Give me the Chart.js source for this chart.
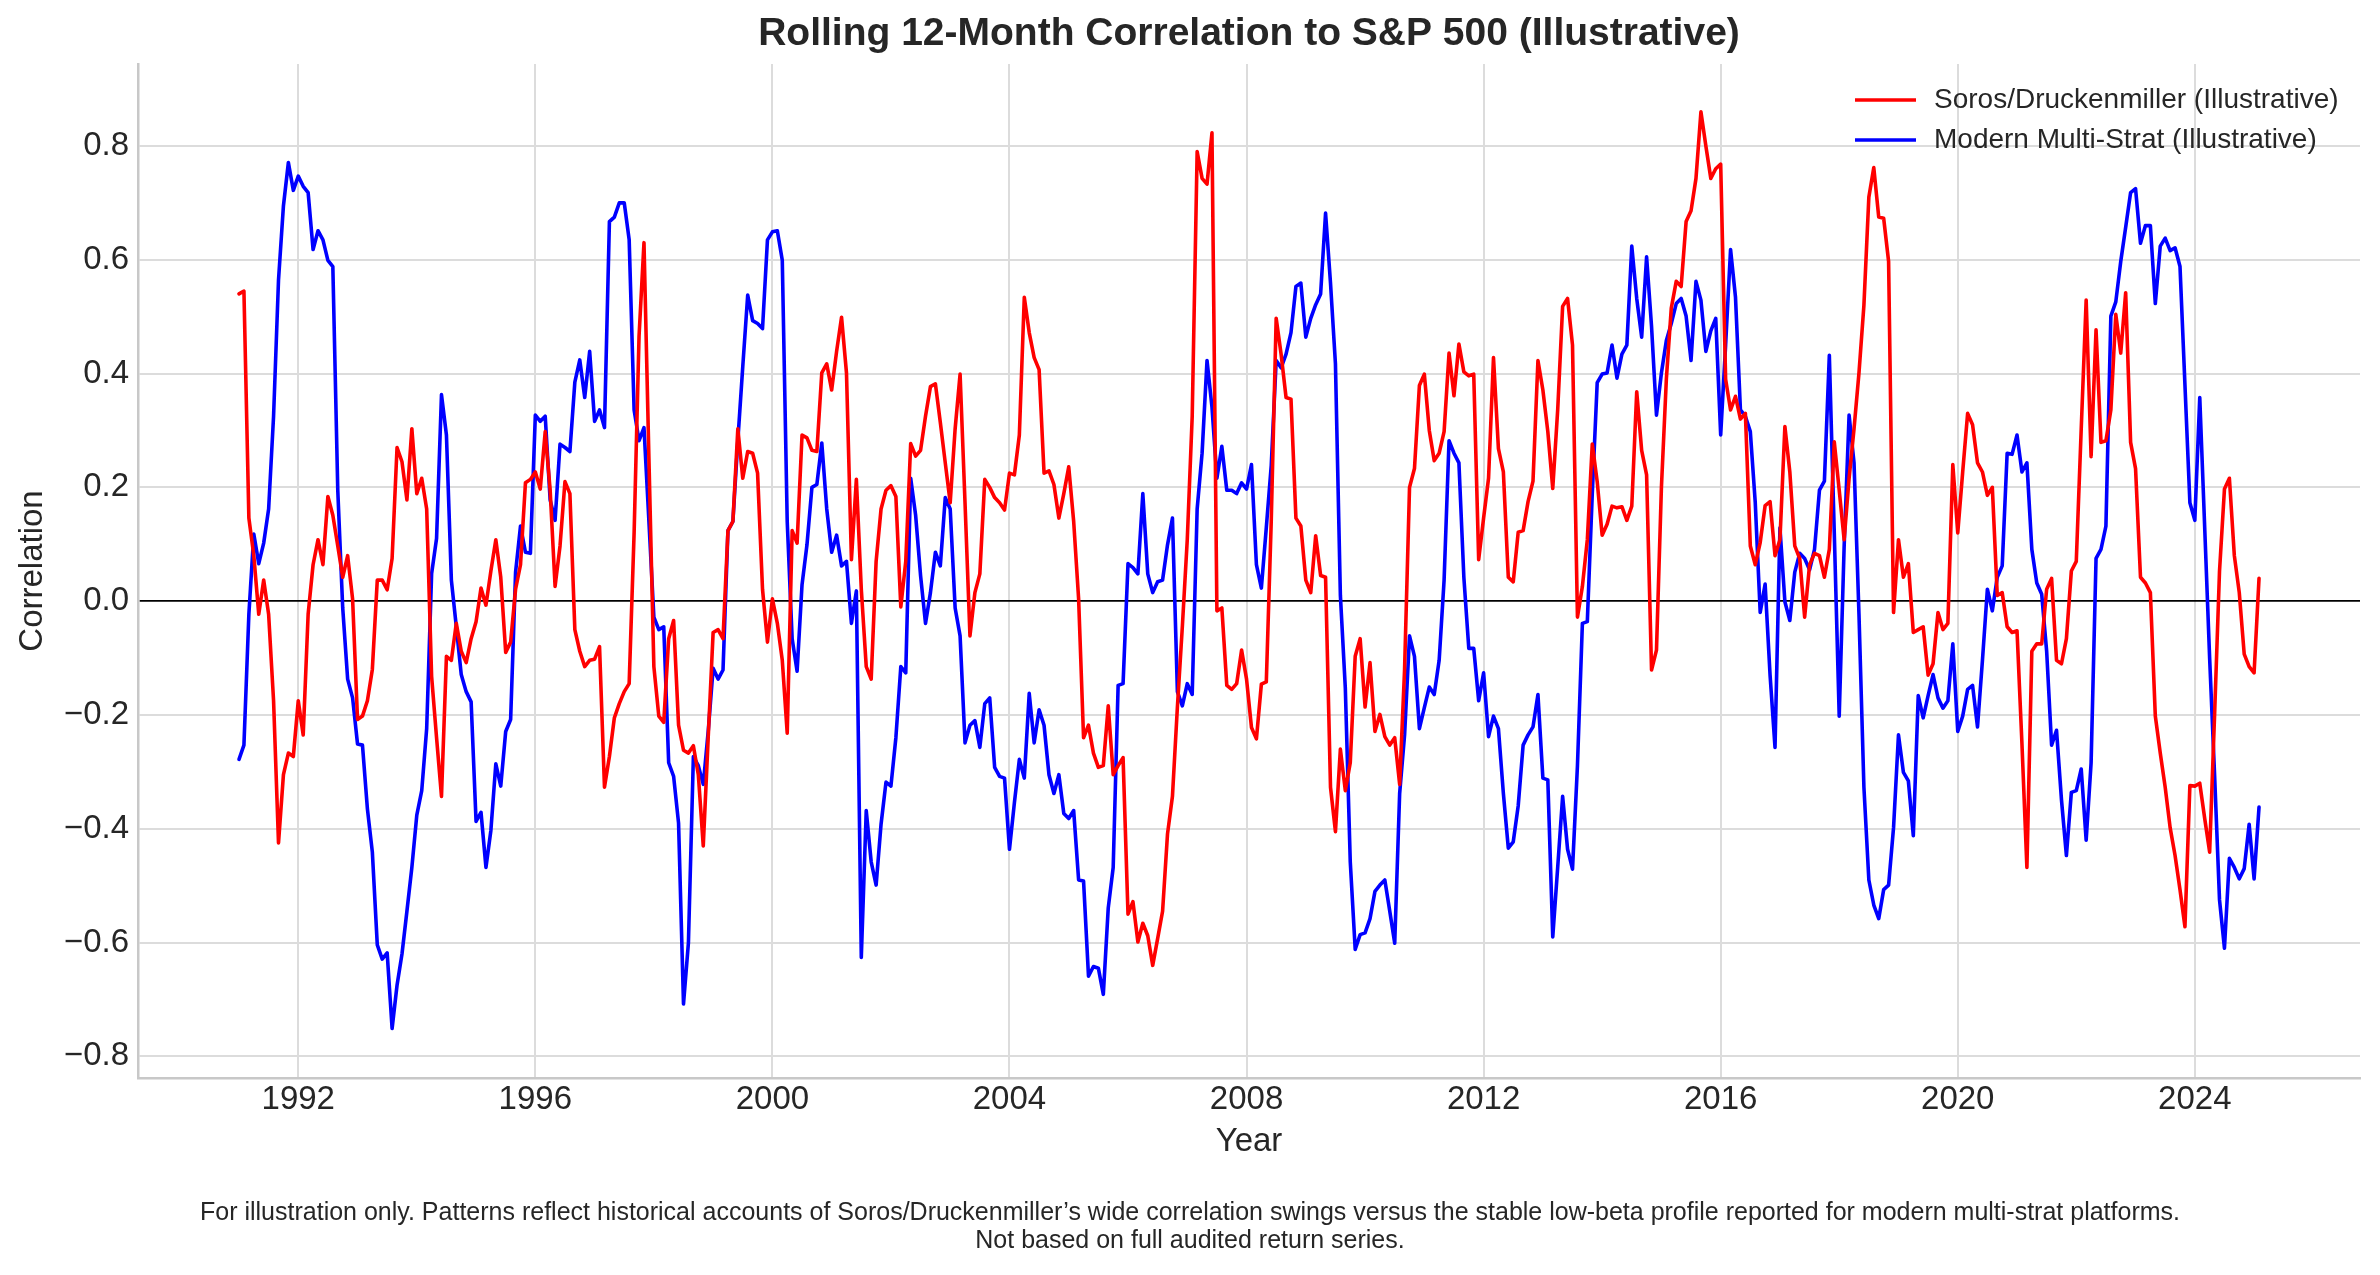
<!DOCTYPE html>
<html>
<head>
<meta charset="utf-8">
<script src="https://cdn.jsdelivr.net/npm/chart.js@4.4.1/dist/chart.umd.min.js"></script>
<style>
html,body{margin:0;padding:0;background:#ffffff;}
#wrap{width:2380px;height:1275px;position:relative;}
</style>
</head>
<body>
<div id="wrap"><canvas id="c"></canvas></div>
<script>
// ---- data (monthly, starting January 1991) ----
const startYear = 1991;
const seriesNames = ["Soros/Druckenmiller (Illustrative)", "Modern Multi-Strat (Illustrative)"];
const seriesColors = ["#ff0000", "#0000ff"];

const sorosValues = [
0.54,0.545,0.146,0.08,-0.023,0.037,-0.023,-0.175,-0.425,-0.305,-0.267,-0.273,
-0.175,-0.235,-0.023,0.064,0.108,0.064,0.184,0.151,0.097,0.042,0.08,0.004,
-0.208,-0.202,-0.175,-0.12,0.037,0.037,0.02,0.075,0.27,0.245,0.178,0.303,
0.189,0.216,0.162,-0.132,-0.24,-0.343,-0.097,-0.104,-0.039,-0.088,-0.108,-0.066,
-0.036,0.023,-0.007,0.053,0.108,0.042,-0.09,-0.072,0.021,0.064,0.208,0.214,
0.227,0.197,0.298,0.195,0.026,0.097,0.21,0.189,-0.05,-0.088,-0.115,-0.104,
-0.102,-0.08,-0.327,-0.273,-0.205,-0.18,-0.159,-0.145,0.12,0.466,0.63,0.25,
-0.115,-0.202,-0.213,-0.066,-0.034,-0.218,-0.262,-0.267,-0.254,-0.305,-0.43,-0.24,
-0.055,-0.05,-0.066,0.124,0.14,0.303,0.216,0.263,0.26,0.225,0.021,-0.072,
0.004,-0.039,-0.104,-0.232,0.124,0.102,0.292,0.287,0.265,0.263,0.401,0.417,
0.371,0.439,0.499,0.401,0.073,0.214,0.021,-0.115,-0.137,0.07,0.162,0.195,
0.203,0.184,-0.01,0.07,0.277,0.255,0.265,0.325,0.377,0.382,0.314,0.243,
0.173,0.303,0.399,0.173,-0.061,0.015,0.048,0.214,0.2,0.182,0.173,0.16,
0.225,0.222,0.292,0.534,0.472,0.428,0.407,0.225,0.229,0.205,0.146,0.189,
0.236,0.14,0.004,-0.24,-0.218,-0.267,-0.292,-0.289,-0.184,-0.305,-0.289,-0.275,
-0.55,-0.528,-0.599,-0.566,-0.588,-0.64,-0.593,-0.545,-0.409,-0.343,-0.186,-0.045,
0.108,0.325,0.79,0.743,0.733,0.823,-0.017,-0.012,-0.148,-0.155,-0.145,-0.086,
-0.137,-0.222,-0.242,-0.146,-0.142,0.14,0.497,0.434,0.358,0.355,0.146,0.132,
0.037,0.015,0.115,0.045,0.042,-0.327,-0.405,-0.26,-0.333,-0.284,-0.097,-0.066,
-0.186,-0.108,-0.229,-0.199,-0.238,-0.253,-0.24,-0.322,-0.12,0.2,0.233,0.379,
0.399,0.3,0.247,0.26,0.298,0.436,0.361,0.452,0.403,0.396,0.399,0.073,
0.146,0.216,0.428,0.268,0.227,0.042,0.034,0.121,0.124,0.175,0.211,0.423,
0.371,0.298,0.198,0.336,0.518,0.532,0.45,-0.028,0.026,0.108,0.276,0.21,
0.116,0.135,0.167,0.164,0.166,0.142,0.167,0.368,0.265,0.222,-0.121,-0.086,
0.2,0.39,0.515,0.562,0.553,0.667,0.686,0.743,0.86,0.8,0.743,0.76,
0.768,0.39,0.336,0.36,0.32,0.33,0.097,0.064,0.103,0.168,0.175,0.08,
0.108,0.307,0.227,0.097,0.075,-0.028,0.064,0.084,0.08,0.042,0.091,0.28,
0.195,0.108,0.216,0.303,0.401,0.52,0.71,0.762,0.675,0.673,0.597,-0.02,
0.108,0.042,0.066,-0.055,-0.05,-0.045,-0.13,-0.11,-0.02,-0.05,-0.039,0.24,
0.12,0.227,0.33,0.31,0.243,0.227,0.186,0.2,0.01,0.015,-0.045,-0.055,
-0.052,-0.251,-0.468,-0.088,-0.075,-0.075,0.021,0.04,-0.104,-0.11,-0.066,0.053,
0.07,0.303,0.529,0.254,0.477,0.279,0.282,0.336,0.504,0.436,0.542,0.279,
0.233,0.042,0.032,0.015,-0.202,-0.267,-0.327,-0.398,-0.447,-0.507,-0.572,-0.324,
-0.325,-0.32,-0.382,-0.441,-0.2,0.053,0.197,0.216,0.08,0.015,-0.093,-0.115,
-0.126,0.04
];

const multiStratValues = [
-0.278,-0.253,-0.023,0.118,0.066,0.102,0.162,0.325,0.564,0.695,0.771,0.722,
0.747,0.729,0.718,0.618,0.651,0.635,0.599,0.588,0.195,-0.012,-0.137,-0.17,
-0.251,-0.253,-0.365,-0.441,-0.604,-0.629,-0.618,-0.751,-0.675,-0.62,-0.545,-0.468,
-0.376,-0.333,-0.224,0.048,0.11,0.363,0.292,0.037,-0.045,-0.129,-0.159,-0.177,
-0.387,-0.371,-0.468,-0.403,-0.286,-0.325,-0.229,-0.208,0.051,0.132,0.086,0.084,
0.327,0.316,0.325,0.178,0.142,0.276,0.27,0.263,0.385,0.424,0.358,0.439,
0.316,0.336,0.305,0.667,0.675,0.7,0.7,0.635,0.336,0.282,0.305,0.14,
-0.028,-0.05,-0.045,-0.284,-0.308,-0.39,-0.708,-0.6,-0.273,-0.289,-0.322,-0.229,
-0.118,-0.137,-0.121,0.124,0.14,0.282,0.412,0.538,0.493,0.488,0.479,0.635,
0.649,0.651,0.599,0.14,-0.066,-0.123,0.029,0.099,0.2,0.205,0.278,0.162,
0.086,0.116,0.062,0.07,-0.039,0.018,-0.626,-0.368,-0.458,-0.499,-0.392,-0.318,
-0.325,-0.24,-0.115,-0.126,0.216,0.151,0.045,-0.039,0.015,0.086,0.062,0.182,
0.162,-0.012,-0.061,-0.249,-0.218,-0.21,-0.257,-0.18,-0.17,-0.292,-0.308,-0.311,
-0.436,-0.354,-0.278,-0.311,-0.162,-0.249,-0.191,-0.218,-0.305,-0.338,-0.305,-0.373,
-0.382,-0.368,-0.49,-0.492,-0.659,-0.642,-0.645,-0.691,-0.539,-0.468,-0.148,-0.145,
0.066,0.059,0.048,0.189,0.048,0.015,0.034,0.037,0.099,0.146,-0.159,-0.184,
-0.145,-0.164,0.162,0.26,0.423,0.341,0.216,0.272,0.195,0.195,0.189,0.208,
0.197,0.24,0.064,0.023,0.129,0.238,0.423,0.41,0.434,0.472,0.553,0.559,
0.464,0.497,0.521,0.54,0.682,0.559,0.417,0.01,-0.153,-0.458,-0.612,-0.586,
-0.583,-0.558,-0.51,-0.499,-0.49,-0.545,-0.601,-0.338,-0.235,-0.061,-0.097,-0.224,
-0.187,-0.151,-0.164,-0.104,0.037,0.282,0.26,0.243,0.042,-0.083,-0.083,-0.175,
-0.126,-0.238,-0.202,-0.224,-0.338,-0.434,-0.423,-0.36,-0.253,-0.235,-0.221,-0.164,
-0.311,-0.314,-0.59,-0.468,-0.343,-0.436,-0.471,-0.289,-0.039,-0.036,0.189,0.384,
0.399,0.401,0.45,0.392,0.434,0.45,0.624,0.532,0.464,0.605,0.483,0.327,
0.401,0.458,0.488,0.523,0.532,0.501,0.423,0.562,0.529,0.439,0.475,0.497,
0.292,0.45,0.618,0.534,0.336,0.325,0.298,0.173,-0.02,0.03,-0.13,-0.257,
0.129,-0.001,-0.034,0.051,0.084,0.075,0.055,0.091,0.195,0.211,0.432,0.12,
-0.202,0.097,0.327,0.243,-0.023,-0.327,-0.49,-0.534,-0.558,-0.507,-0.499,-0.398,
-0.235,-0.301,-0.316,-0.412,-0.166,-0.205,-0.166,-0.129,-0.17,-0.188,-0.175,-0.075,
-0.229,-0.202,-0.155,-0.148,-0.221,-0.104,0.021,-0.017,0.042,0.062,0.26,0.258,
0.292,0.227,0.243,0.091,0.032,0.012,-0.088,-0.253,-0.227,-0.349,-0.447,-0.336,
-0.333,-0.295,-0.42,-0.284,0.075,0.091,0.132,0.501,0.526,0.597,0.657,0.718,
0.725,0.629,0.66,0.66,0.523,0.624,0.638,0.616,0.621,0.588,0.38,0.173,
0.142,0.358,0.129,-0.1,-0.305,-0.525,-0.61,-0.452,-0.468,-0.488,-0.47,-0.392,
-0.488,-0.362
];

const xTickYears = [1992, 1996, 2000, 2004, 2008, 2012, 2016, 2020, 2024];
const yTickValues = [-0.8, -0.6, -0.4, -0.2, 0.0, 0.2, 0.4, 0.6, 0.8];

const titleText = "Rolling 12-Month Correlation to S&P 500 (Illustrative)";
const xTitle = "Year";
const yTitle = "Correlation";
const footnoteLines = [
  "For illustration only. Patterns reflect historical accounts of Soros/Druckenmiller\u2019s wide correlation swings versus the stable low-beta profile reported for modern multi-strat platforms.",
  "Not based on full audited return series."
];

// ---- build ----
const FONT = '"Liberation Sans", Arial, Helvetica, sans-serif';
const TEXT = '#262626';
const LINE_W = 3.6;
function toPoints(vals){ return vals.map((v,i)=>({x: startYear + i/12, y: v})); }
function fmtY(v){ const s = Math.abs(v) < 1e-9 ? '0.0' : v.toFixed(1); return s.replace('-', '\u2212'); }

const decor = {
  id: 'decor',
  afterDraw(chart){
    const ctx = chart.ctx, a = chart.chartArea;
    const cx = (a.left + a.right)/2;
    ctx.save();
    ctx.fillStyle = TEXT;
    ctx.textBaseline = 'middle';
    // title
    ctx.font = 'bold 39px ' + FONT;
    ctx.textAlign = 'center';
    ctx.fillText(titleText, cx, 34);
    // x title
    ctx.font = '33px ' + FONT;
    ctx.fillText(xTitle, cx, 1142);
    // y title
    ctx.save();
    ctx.translate(33, (a.top + a.bottom)/2);
    ctx.rotate(-Math.PI/2);
    ctx.fillText(yTitle, 0, 0);
    ctx.restore();
    // footnote
    ctx.font = '25px ' + FONT;
    ctx.fillText(footnoteLines[0], 1190, 1213);
    ctx.fillText(footnoteLines[1], 1190, 1241);
    // legend
    ctx.font = '28px ' + FONT;
    ctx.textAlign = 'left';
    const rows = [100, 140];
    chart.data.datasets.forEach((ds, i) => {
      ctx.strokeStyle = ds.borderColor;
      ctx.lineWidth = LINE_W;
      ctx.beginPath();
      ctx.moveTo(1855, rows[i]);
      ctx.lineTo(1916, rows[i]);
      ctx.stroke();
      ctx.fillStyle = TEXT;
      ctx.fillText(ds.label, 1934, rows[i]);
    });
    ctx.restore();
  }
};

new Chart(document.getElementById('c'), {
  type: 'line',
  data: {
    datasets: [
      { label: seriesNames[0], data: toPoints(sorosValues), borderColor: seriesColors[0], backgroundColor: seriesColors[0], borderWidth: LINE_W, pointRadius: 0, tension: 0, fill: false, borderJoinStyle: 'round', borderCapStyle: 'round' },
      { label: seriesNames[1], data: toPoints(multiStratValues), borderColor: seriesColors[1], backgroundColor: seriesColors[1], borderWidth: LINE_W, pointRadius: 0, tension: 0, fill: false, borderJoinStyle: 'round', borderCapStyle: 'round' }
    ]
  },
  options: {
    responsive: true,
    maintainAspectRatio: false,
    devicePixelRatio: 1,
    animation: false,
    layout: { padding: { left: 0, right: 20, top: 64, bottom: 0 } },
    plugins: { legend: { display: false }, title: { display: false }, tooltip: { enabled: false } },
    scales: {
      x: {
        type: 'linear',
        min: 1989.296,
        max: 2026.787,
        afterBuildTicks: s => { s.ticks = xTickYears.map(v => ({ value: v })); },
        afterFit: s => { s.height = 197; },
        ticks: { font: { family: FONT, size: 33 }, color: TEXT, padding: 2, maxRotation: 0, autoSkip: false, callback: v => String(v) },
        grid: { color: '#dcdcdc', lineWidth: 2, drawTicks: false, tickLength: 0 },
        border: { display: true, color: '#c8c8c8', width: 2.5 }
      },
      y: {
        type: 'linear',
        min: -0.838,
        max: 0.944,
        afterBuildTicks: s => { s.ticks = yTickValues.map(v => ({ value: v })); },
        afterFit: s => { s.width = 138; },
        ticks: { font: { family: FONT, size: 33 }, color: TEXT, padding: 9, autoSkip: false, callback: v => fmtY(v) },
        grid: {
          color: c => (c.tick && Math.abs(c.tick.value) < 1e-9) ? '#000000' : '#dcdcdc',
          lineWidth: c => (c.tick && Math.abs(c.tick.value) < 1e-9) ? 1.7 : 2,
          drawTicks: false, tickLength: 0
        },
        border: { display: true, color: '#c8c8c8', width: 2.5 }
      }
    }
  },
  plugins: [decor]
});
</script>
</body>
</html>
